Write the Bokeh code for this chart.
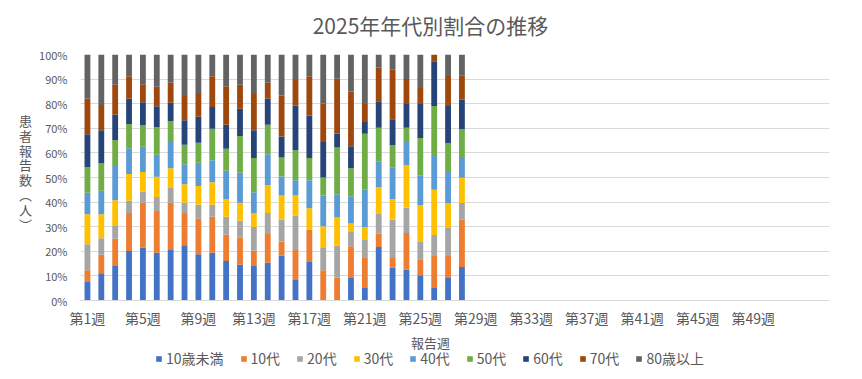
from bokeh.plotting import figure
from bokeh.layouts import row, column
from bokeh.models import (ColumnDataSource, FixedTicker, PrintfTickFormatter,
                          Legend, LegendItem, Range1d)
from bokeh.core.properties import value
from bokeh.embed import file_html
from bokeh.resources import INLINE

# ---------------- data (percent share per week) ----------------
weeks = [1, 2, 3, 4, 5, 6, 7, 8, 9, 10, 11, 12, 13, 14,
         15, 16, 17, 18, 19, 20, 21, 22, 23, 24, 25, 26, 27, 28]

groups = ["10歳未満", "10代", "20代", "30代", "40代", "50代", "60代", "70代", "80歳以上"]

u10 = [7.5, 11.1, 14.0, 20.1, 21.4, 19.4, 20.5, 22.5, 18.8, 19.4, 16.1, 14.5, 14.0, 15.3,
       18.3, 8.3, 15.6, 0, 0, 9.1, 5.1, 21.7, 13.3, 12.5, 10.3, 5.4, 9.5, 13.6]
a10 = [4.8, 7.5, 11.1, 15.5, 18.3, 17.0, 19.2, 13.1, 14.4, 14.6, 10.6, 11.0, 6.2, 11.7,
       5.7, 12.2, 13.3, 12.3, 9.3, 13.0, 12.5, 5.4, 4.0, 14.9, 6.5, 13.0, 8.9, 19.2]
a20 = [10.6, 6.7, 5.5, 4.9, 4.5, 5.7, 6.0, 4.1, 5.7, 4.9, 7.3, 6.9, 9.7, 8.6,
       8.9, 14.1, 0, 9.0, 13.1, 5.7, 7.3, 8.1, 15.5, 10.3, 7.0, 8.2, 11.4, 6.8]
a30 = [12.2, 9.8, 10.2, 10.9, 8.0, 8.2, 8.1, 7.6, 7.6, 9.2, 7.3, 7.3, 5.7, 11.4,
       9.8, 8.1, 8.6, 8.9, 11.3, 3.5, 4.9, 10.9, 8.4, 17.3, 15.0, 18.4, 9.8, 10.3]
a40 = [8.7, 9.5, 14.3, 10.5, 10.3, 8.9, 10.6, 8.1, 9.5, 8.9, 11.4, 12.2, 8.4, 12.5,
       7.7, 6.2, 11.4, 12.5, 9.5, 11.1, 15.2, 10.5, 13.0, 9.8, 12.1, 14.1, 13.0, 8.4]
a50 = [10.4, 11.2, 10.1, 9.8, 8.8, 11.3, 8.5, 7.9, 8.1, 12.8, 9.0, 15.0, 13.9, 11.9,
       7.7, 12.2, 9.0, 7.3, 19.0, 11.4, 22.8, 13.6, 8.9, 5.4, 15.2, 20.0, 11.4, 11.3]
a60 = [13.4, 13.4, 10.3, 10.3, 9.3, 8.5, 7.5, 10.0, 10.6, 8.9, 9.7, 11.0, 11.3, 10.6,
       8.6, 18.2, 17.3, 14.4, 5.7, 8.9, 4.8, 10.8, 10.6, 9.7, 13.8, 18.2, 15.1, 12.0]
a70 = [14.4, 10.3, 12.2, 9.2, 7.3, 7.9, 8.1, 9.8, 9.7, 12.5, 15.7, 9.8, 14.7, 6.5,
       16.6, 10.3, 16.0, 15.7, 22.2, 22.3, 7.3, 13.6, 20.1, 10.1, 6.5, 2.7, 12.2, 10.0]
o80 = [18.0, 20.5, 12.3, 8.8, 12.1, 13.1, 11.5, 16.9, 15.6, 8.8, 12.9, 12.3, 16.1, 11.5,
       16.7, 10.4, 8.8, 19.9, 9.9, 15.0, 20.1, 5.4, 6.2, 10.0, 13.6, 0, 8.7, 8.4]

tick_weeks = [1, 5, 9, 13, 17, 21, 25, 29, 33, 37, 41, 45, 49]
tick_labels = ["第1週", "第5週", "第9週", "第13週", "第17週", "第21週", "第25週",
               "第29週", "第33週", "第37週", "第41週", "第45週", "第49週"]
y_ticks = [0, 10, 20, 30, 40, 50, 60, 70, 80, 90, 100]

colors = ["#4472C4", "#ED7D31", "#A5A5A5", "#FFC000", "#5B9BD5",
          "#70AD47", "#264478", "#9E480E", "#636363"]

FONT = "Noto Sans CJK JP"
TXT = "#595959"
W = 862
TOP_H, MID_H, BOT_H = 44, 286, 49   # strips: title / plot / axis title + legend
LW = 36                              # left strip for the vertical y-axis title


def strip(width, height):
    f = figure(width=width, height=height, output_backend="svg", toolbar_location=None,
               x_range=Range1d(0, width), y_range=Range1d(0, height), min_border=0)
    f.axis.visible = False
    f.grid.visible = False
    f.outline_line_color = None
    return f


# ---------------- main plot ----------------
src = ColumnDataSource(dict(week=weeks, **dict(zip(groups, [u10, a10, a20, a30, a40, a50, a60, a70, o80]))))

p = figure(width=W - LW, height=MID_H, output_backend="svg", toolbar_location=None,
           x_range=Range1d(0.5, 54.5), y_range=Range1d(0, 100),
           min_border_left=77 - LW, min_border_right=33, min_border_top=10, min_border_bottom=30)
p.outline_line_color = None

rs = p.vbar_stack(groups, x="week", width=0.42, source=src,
                  fill_color=colors, line_color=None, line_width=0)

p.yaxis.ticker = FixedTicker(ticks=y_ticks)
p.yaxis.formatter = PrintfTickFormatter(format="%d%%")
p.yaxis.axis_line_color = None
p.yaxis.major_tick_line_color = None
p.yaxis.minor_tick_line_color = None
p.yaxis.major_label_standoff = 7
p.yaxis.major_label_text_font = FONT
p.yaxis.major_label_text_font_size = "11px"
p.yaxis.major_label_text_color = TXT

p.xaxis.ticker = FixedTicker(ticks=tick_weeks)
p.xaxis.major_label_overrides = dict(zip(tick_weeks, tick_labels))
p.xaxis.axis_line_color = "#d9d9d9"
p.xaxis.major_tick_line_color = None
p.xaxis.minor_tick_line_color = None
p.xaxis.major_label_standoff = 1
p.xaxis.major_label_text_font = FONT
p.xaxis.major_label_text_font_size = "14px"
p.xaxis.major_label_text_color = TXT

p.xgrid.grid_line_color = None
p.ygrid.ticker = FixedTicker(ticks=y_ticks)
p.ygrid.grid_line_color = "#d9d9d9"
p.ygrid.grid_line_width = 1

# ---------------- title strip ----------------
top = strip(W, TOP_H)
top.text(x=[430], y=[TOP_H - 24], text=["2025年年代別割合の推移"],
         text_align="center", text_baseline="middle", text_font=value(FONT),
         text_font_size="21px", text_color=TXT)

# ---------------- left strip: upright vertical y-axis title ----------------
ylab = strip(LW, MID_H)
ylab.text(x=[25], y=[MID_H - 137], text=["患\n者\n報\n告\n数\n︵\n人\n︶"],
          text_align="center", text_baseline="middle", text_font=value(FONT),
          text_font_size="13px", text_color=TXT, text_line_height=0.78)

# ---------------- bottom strip: x-axis title + legend ----------------
bot = strip(W, BOT_H)
bot.text(x=[430], y=[BOT_H - 12], text=["報告週"],
         text_align="center", text_baseline="middle", text_font=value(FONT),
         text_font_size="13px", text_color=TXT)
# legend proxies: zero-height bars placed left of the strip's visible range
proxies = [bot.vbar(x=[-50], top=[0], width=1, fill_color=c, line_color=None) for c in colors]
legend = Legend(items=[LegendItem(label=g, renderers=[r]) for g, r in zip(groups, proxies)],
                orientation="horizontal", location=(155, 11),
                glyph_width=7, glyph_height=7, label_height=14, label_standoff=4, spacing=16,
                padding=0, margin=0, border_line_color=None, background_fill_alpha=0,
                label_text_font=FONT, label_text_font_size="14px", label_text_color=TXT)
bot.add_layout(legend)

layout = column(top, row(ylab, p, spacing=0), bot, spacing=0)
open("out.html", "w").write(file_html(layout, INLINE))
